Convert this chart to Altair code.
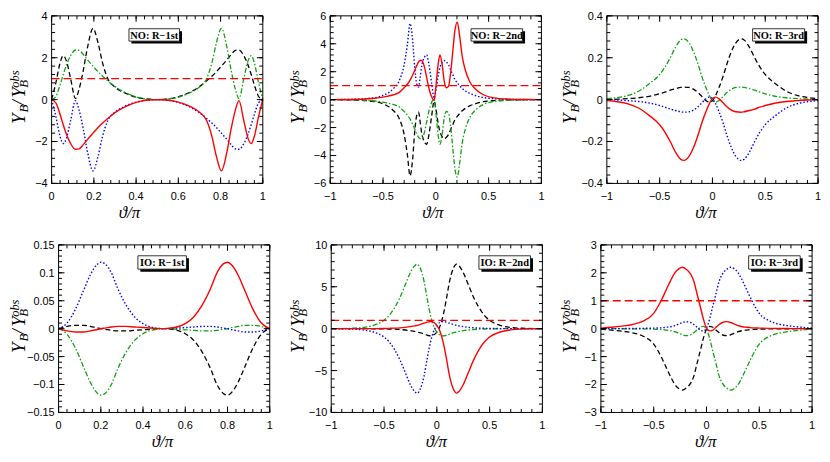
import altair as alt
import pandas as pd

W, H = 213, 169
SERIF = "Liberation Serif, DejaVu Serif, serif"
SANS = "Liberation Sans, Arial, sans-serif"

# ---------------- data ----------------
REF_LEVEL = 1.0

NO1_X = [0, 0.02, 0.04, 0.055, 0.07, 0.09, 0.113, 0.13, 0.15, 0.17, 0.196, 0.22, 0.24, 0.266, 0.30, 0.34, 0.38, 0.42, 0.46, 0.50,
         0.54, 0.58, 0.62, 0.66, 0.70, 0.734, 0.76, 0.78, 0.804, 0.83, 0.85, 0.87, 0.887, 0.91, 0.93, 0.945, 0.96, 0.98, 1.0]
NO1_RED = [0.0, -0.15, -0.7, -1.2, -1.65, -2.1, -2.37, -2.35, -2.15, -1.9, -1.6, -1.33, -1.13, -0.9, -0.62, -0.38, -0.2, -0.08, -0.02, 0.0,
           -0.02, -0.07, -0.18, -0.35, -0.6, -1.0, -1.8, -2.7, -3.4, -2.5, -1.4, -0.5, -0.05, -1.0, -1.85, -2.1, -1.75, -0.8, 0.0]
NO1_BLUE = [0.0, -0.8, -1.75, -2.1, -1.85, -1.0, -0.05, -0.5, -1.4, -2.5, -3.4, -2.7, -1.8, -1.0, -0.6, -0.35, -0.18, -0.07, -0.02, 0.0,
            -0.02, -0.08, -0.2, -0.38, -0.62, -0.9, -1.13, -1.33, -1.6, -1.9, -2.15, -2.35, -2.37, -2.1, -1.65, -1.2, -0.7, -0.15, 0.0]
NO1_GREEN = [0.0, 0.15, 0.7, 1.2, 1.65, 2.1, 2.37, 2.35, 2.15, 1.9, 1.6, 1.33, 1.13, 0.9, 0.62, 0.38, 0.2, 0.08, 0.02, 0.0,
             0.02, 0.07, 0.18, 0.35, 0.6, 1.0, 1.8, 2.7, 3.4, 2.5, 1.4, 0.5, 0.05, 1.0, 1.85, 2.1, 1.75, 0.8, 0.0]
NO1_BLACK = [0.0, 0.8, 1.75, 2.1, 1.85, 1.0, 0.05, 0.5, 1.4, 2.5, 3.4, 2.7, 1.8, 1.0, 0.6, 0.35, 0.18, 0.07, 0.02, 0.0,
             0.02, 0.08, 0.2, 0.38, 0.62, 0.9, 1.13, 1.33, 1.6, 1.9, 2.15, 2.35, 2.37, 2.1, 1.65, 1.2, 0.7, 0.15, 0.0]

NO2_X = [-1.0, -0.8, -0.6, -0.5, -0.4, -0.35, -0.3, -0.27, -0.244, -0.22, -0.2, -0.18, -0.163, -0.15, -0.134, -0.11, -0.087, -0.065, -0.04, -0.016,
         0.0, 0.02, 0.039, 0.06, 0.08, 0.1, 0.12, 0.14, 0.16, 0.18, 0.203, 0.225, 0.25, 0.28, 0.32, 0.38, 0.45, 0.55, 0.7, 0.85, 1.0]
NO2_RED = [0.0, 0.01, 0.08, 0.18, 0.35, 0.5, 0.85, 1.1, 1.4, 1.75, 2.1, 2.45, 2.7, 2.8, 2.8, 2.4, 1.6, 0.8, 0.2, -0.05,
           0.9, 2.4, 3.2, 2.5, 1.3, 0.85, 0.95, 1.9, 3.4, 4.9, 5.55, 4.6, 3.1, 2.1, 1.3, 0.72, 0.35, 0.13, 0.04, 0.01, 0.0]
NO2_BLUE = [0.0, 0.02, 0.12, 0.3, 0.8, 1.3, 2.5, 3.9, 5.45, 4.3, 2.3, 1.1, 0.9, 1.5, 2.4, 3.0, 3.2, 2.5, 1.2, 0.1,
            0.6, 1.6, 2.3, 2.65, 2.8, 2.7, 2.5, 2.15, 1.8, 1.45, 1.2, 1.0, 0.8, 0.62, 0.45, 0.28, 0.15, 0.07, 0.02, 0.005, 0.0]
NO2_GREEN = [0.0, -0.01, -0.08, -0.18, -0.35, -0.5, -0.85, -1.1, -1.4, -1.75, -2.1, -2.45, -2.7, -2.8, -2.8, -2.4, -1.6, -0.8, -0.2, 0.05,
             -0.9, -2.4, -3.2, -2.5, -1.3, -0.85, -0.95, -1.9, -3.4, -4.9, -5.55, -4.6, -3.1, -2.1, -1.3, -0.72, -0.35, -0.13, -0.04, -0.01, 0.0]
NO2_BLACK = [0.0, -0.02, -0.12, -0.3, -0.8, -1.3, -2.5, -3.9, -5.45, -4.3, -2.3, -1.1, -0.9, -1.5, -2.4, -3.0, -3.2, -2.5, -1.2, -0.1,
             -0.6, -1.6, -2.3, -2.65, -2.8, -2.7, -2.5, -2.15, -1.8, -1.45, -1.2, -1.0, -0.8, -0.62, -0.45, -0.28, -0.15, -0.07, -0.02, -0.005, 0.0]

NO3_X = [-1.0, -0.9, -0.8, -0.7, -0.6, -0.5, -0.45, -0.4, -0.35, -0.3, -0.27, -0.22, -0.18, -0.14, -0.1, -0.06, -0.03, 0.0,
         0.03, 0.06, 0.1, 0.14, 0.18, 0.22, 0.27, 0.3, 0.35, 0.4, 0.45, 0.5, 0.6, 0.7, 0.8, 0.9, 1.0]
NO3_RED = [-0.005, -0.01, -0.02, -0.04, -0.075, -0.12, -0.155, -0.2, -0.25, -0.285, -0.29, -0.27, -0.23, -0.175, -0.11, -0.055, -0.02, 0.005,
           0.012, 0.005, -0.015, -0.035, -0.05, -0.058, -0.06, -0.058, -0.052, -0.045, -0.036, -0.028, -0.016, -0.009, -0.005, -0.002, 0.0]
NO3_BLUE = [0.0, -0.002, -0.005, -0.009, -0.016, -0.028, -0.036, -0.045, -0.052, -0.058, -0.06, -0.058, -0.05, -0.035, -0.015, 0.005, 0.012, 0.005,
            -0.02, -0.055, -0.11, -0.175, -0.23, -0.27, -0.29, -0.285, -0.25, -0.2, -0.155, -0.12, -0.075, -0.04, -0.02, -0.01, -0.005]
NO3_GREEN = [0.005, 0.01, 0.02, 0.04, 0.075, 0.12, 0.155, 0.2, 0.25, 0.285, 0.29, 0.27, 0.23, 0.175, 0.11, 0.055, 0.02, -0.005,
             -0.012, -0.005, 0.015, 0.035, 0.05, 0.058, 0.06, 0.058, 0.052, 0.045, 0.036, 0.028, 0.016, 0.009, 0.005, 0.002, 0.0]
NO3_BLACK = [0.0, 0.002, 0.005, 0.009, 0.016, 0.028, 0.036, 0.045, 0.052, 0.058, 0.06, 0.058, 0.05, 0.035, 0.015, -0.005, -0.012, -0.005,
             0.02, 0.055, 0.11, 0.175, 0.23, 0.27, 0.29, 0.285, 0.25, 0.2, 0.155, 0.12, 0.075, 0.04, 0.02, 0.01, 0.005]

IO1_X = [0.0, 0.04, 0.08, 0.12, 0.15, 0.18, 0.2, 0.22, 0.25, 0.28, 0.32, 0.36, 0.4, 0.45, 0.5,
         0.55, 0.6, 0.64, 0.68, 0.72, 0.75, 0.78, 0.8, 0.82, 0.85, 0.88, 0.92, 0.96, 1.0]
IO1_RED = [0.0, -0.004, -0.006, -0.006, -0.004, -0.002, 0.0, 0.001, 0.003, 0.004, 0.004, 0.003, 0.002, 0.0008, 0.0,
           0.002, 0.009, 0.021, 0.042, 0.072, 0.1, 0.116, 0.119, 0.114, 0.096, 0.07, 0.035, 0.01, 0.0]
IO1_BLUE = [0.0, 0.01, 0.035, 0.07, 0.096, 0.114, 0.119, 0.116, 0.1, 0.072, 0.042, 0.021, 0.009, 0.002, 0.0,
            0.0008, 0.002, 0.003, 0.004, 0.004, 0.003, 0.001, 0.0, -0.002, -0.004, -0.006, -0.006, -0.004, 0.0]
IO1_GREEN = [0.0, -0.01, -0.035, -0.07, -0.096, -0.114, -0.119, -0.116, -0.1, -0.072, -0.042, -0.021, -0.009, -0.002, 0.0,
             -0.0008, -0.002, -0.003, -0.004, -0.004, -0.003, -0.001, 0.0, 0.002, 0.004, 0.006, 0.006, 0.004, 0.0]
IO1_BLACK = [0.0, 0.004, 0.006, 0.006, 0.004, 0.002, 0.0, -0.001, -0.003, -0.004, -0.004, -0.003, -0.002, -0.0008, 0.0,
             -0.002, -0.009, -0.021, -0.042, -0.072, -0.1, -0.116, -0.119, -0.114, -0.096, -0.07, -0.035, -0.01, 0.0]

IO2_X = [-1.0, -0.8, -0.7, -0.6, -0.5, -0.45, -0.4, -0.35, -0.3, -0.25, -0.21, -0.187, -0.16, -0.12, -0.09, -0.06, -0.03, 0.0,
         0.03, 0.06, 0.09, 0.12, 0.16, 0.187, 0.21, 0.25, 0.3, 0.35, 0.4, 0.45, 0.5, 0.6, 0.7, 0.8, 1.0]
IO2_RED = [0.0, 0.0, 0.004, 0.01, 0.025, 0.04, 0.06, 0.1, 0.16, 0.24, 0.33, 0.4, 0.48, 0.65, 0.78, 0.85, 0.75, 0.4,
           -0.3, -1.6, -3.5, -5.6, -7.3, -7.7, -7.5, -6.7, -5.2, -3.7, -2.5, -1.6, -1.0, -0.4, -0.15, -0.05, 0.0]
IO2_BLUE = [0.0, -0.05, -0.15, -0.4, -1.0, -1.6, -2.5, -3.7, -5.2, -6.7, -7.5, -7.7, -7.3, -5.6, -3.5, -1.6, -0.3, 0.4,
            0.75, 0.85, 0.78, 0.65, 0.48, 0.4, 0.33, 0.24, 0.16, 0.1, 0.06, 0.04, 0.025, 0.01, 0.004, 0.0, 0.0]
IO2_GREEN = [0.0, 0.05, 0.15, 0.4, 1.0, 1.6, 2.5, 3.7, 5.2, 6.7, 7.5, 7.7, 7.3, 5.6, 3.5, 1.6, 0.3, -0.4,
             -0.75, -0.85, -0.78, -0.65, -0.48, -0.4, -0.33, -0.24, -0.16, -0.1, -0.06, -0.04, -0.025, -0.01, -0.004, 0.0, 0.0]
IO2_BLACK = [0.0, 0.0, -0.004, -0.01, -0.025, -0.04, -0.06, -0.1, -0.16, -0.24, -0.33, -0.4, -0.48, -0.65, -0.78, -0.85, -0.75, -0.4,
             0.3, 1.6, 3.5, 5.6, 7.3, 7.7, 7.5, 6.7, 5.2, 3.7, 2.5, 1.6, 1.0, 0.4, 0.15, 0.05, 0.0]

IO3_X = [-1.0, -0.9, -0.8, -0.7, -0.6, -0.5, -0.43, -0.38, -0.34, -0.3, -0.26, -0.228, -0.19, -0.15, -0.12, -0.09, -0.056, -0.03, 0.0,
         0.03, 0.056, 0.09, 0.12, 0.15, 0.19, 0.228, 0.26, 0.3, 0.34, 0.38, 0.43, 0.5, 0.6, 0.7, 0.8, 0.9, 1.0]
IO3_RED = [0.02, 0.05, 0.09, 0.15, 0.27, 0.55, 1.0, 1.4, 1.72, 2.0, 2.15, 2.2, 2.12, 1.95, 1.7, 1.25, 0.75, 0.35, 0.02,
           -0.08, -0.06, 0.05, 0.15, 0.22, 0.25, 0.22, 0.17, 0.11, 0.07, 0.05, 0.03, 0.02, 0.01, 0.005, 0.003, 0.001, 0.0]
IO3_BLUE = [0.0, 0.001, 0.003, 0.005, 0.01, 0.02, 0.03, 0.05, 0.07, 0.11, 0.17, 0.22, 0.25, 0.22, 0.15, 0.05, -0.06, -0.08, 0.02,
            0.35, 0.75, 1.25, 1.7, 1.95, 2.12, 2.2, 2.15, 2.0, 1.72, 1.4, 1.0, 0.55, 0.27, 0.15, 0.09, 0.05, 0.02]
IO3_GREEN = [0.0, -0.001, -0.003, -0.005, -0.01, -0.02, -0.03, -0.05, -0.07, -0.11, -0.17, -0.22, -0.25, -0.22, -0.15, -0.05, 0.06, 0.08, -0.02,
             -0.35, -0.75, -1.25, -1.7, -1.95, -2.12, -2.2, -2.15, -2.0, -1.72, -1.4, -1.0, -0.55, -0.27, -0.15, -0.09, -0.05, -0.02]
IO3_BLACK = [-0.02, -0.05, -0.09, -0.15, -0.27, -0.55, -1.0, -1.4, -1.72, -2.0, -2.15, -2.2, -2.12, -1.95, -1.7, -1.25, -0.75, -0.35, -0.02,
             0.08, 0.06, -0.05, -0.15, -0.22, -0.25, -0.22, -0.17, -0.11, -0.07, -0.05, -0.03, -0.02, -0.01, -0.005, -0.003, -0.001, 0.0]

LABELS = ["NO: R\u22121st", "NO: R\u22122nd", "NO: R\u22123rd", "IO: R\u22121st", "IO: R\u22122nd", "IO: R\u22123rd"]

# ---------------- styles ----------------
STYLE = {
    "black": dict(color="#000000", strokeDash=[5, 3], strokeWidth=1.3),
    "green": dict(color="#10a010", strokeDash=[5, 2, 1.5, 2], strokeWidth=1.3),
    "blue": dict(color="#0000ff", strokeDash=[1.5, 2], strokeWidth=1.4),
    "red": dict(color="#ff0000", strokeWidth=1.4),
}

CELL_W = [280, 280, 258]
CELL_H = [231, 215]


def tick_values(lo, hi, step):
    n = int(round((hi - lo) / step))
    return [round(lo + k * step, 6) for k in range(n + 1)]


def fmt(v):
    if abs(v) < 1e-12:
        return "0"
    return ("%g" % v).replace("-", "\u2212")


def text_layer(s, x, y, size, **kw):
    return alt.Chart(pd.DataFrame({"s": [s]})).mark_text(fontSize=size, **kw).encode(
        x=alt.value(x), y=alt.value(y), text="s:N")


def panel(cw, ch, PL, PT, xs, curves, xdom, ydom, xstep, xminor, ystep, yminor,
          label, box, ytx, xtx, show_ref):
    xscale = alt.Scale(domain=xdom, range=[PL, PL + W], nice=False, zero=False)
    yscale = alt.Scale(domain=ydom, range=[PT + H, PT], nice=False, zero=False)
    X = lambda f: alt.X(f, scale=xscale, axis=None)
    Y = lambda f: alt.Y(f, scale=yscale, axis=None)

    layers = []
    for key, ys in curves:
        df = pd.DataFrame({"x": xs, "y": ys})
        layers.append(alt.Chart(df).mark_line(interpolate="monotone", **STYLE[key]).encode(
            x=X("x:Q"), y=Y("y:Q")))
    if show_ref:
        layers.append(alt.Chart(pd.DataFrame({"v": [REF_LEVEL]})).mark_rule(
            color="#ff0000", strokeDash=[8, 4], strokeWidth=1.3).encode(
            y=Y("v:Q"), x=alt.value(PL), x2=alt.value(PL + W)))

    # frame
    one = pd.DataFrame({"a": [0]})
    layers.append(alt.Chart(one).mark_rect(fillOpacity=0, stroke="black", strokeWidth=1).encode(
        x=alt.value(PL), x2=alt.value(PL + W), y=alt.value(PT), y2=alt.value(PT + H)))

    # inward ticks on all four sides
    for vals, ln in ((tick_values(xdom[0], xdom[1], xminor), 3.5), (tick_values(xdom[0], xdom[1], xstep), 6)):
        tdf = pd.DataFrame({"v": vals})
        layers.append(alt.Chart(tdf).mark_rule(color="black", strokeWidth=1).encode(
            x=X("v:Q"), y=alt.value(PT + H), y2=alt.value(PT + H - ln)))
        layers.append(alt.Chart(tdf).mark_rule(color="black", strokeWidth=1).encode(
            x=X("v:Q"), y=alt.value(PT), y2=alt.value(PT + ln)))
    for vals, ln in ((tick_values(ydom[0], ydom[1], yminor), 3.5), (tick_values(ydom[0], ydom[1], ystep), 6)):
        tdf = pd.DataFrame({"v": vals})
        layers.append(alt.Chart(tdf).mark_rule(color="black", strokeWidth=1).encode(
            y=Y("v:Q"), x=alt.value(PL), x2=alt.value(PL + ln)))
        layers.append(alt.Chart(tdf).mark_rule(color="black", strokeWidth=1).encode(
            y=Y("v:Q"), x=alt.value(PL + W), x2=alt.value(PL + W - ln)))

    # tick labels
    xv = tick_values(xdom[0], xdom[1], xstep)
    layers.append(alt.Chart(pd.DataFrame({"v": xv, "lab": [fmt(v) for v in xv]})).mark_text(
        font=SANS, fontSize=11, color="black", align="center", baseline="alphabetic").encode(
        x=X("v:Q"), y=alt.value(PT + H + 16.5), text="lab:N"))
    yv = tick_values(ydom[0], ydom[1], ystep)
    layers.append(alt.Chart(pd.DataFrame({"v": yv, "lab": [fmt(v) for v in yv]})).mark_text(
        font=SANS, fontSize=11, color="black", align="right", baseline="alphabetic", dy=4).encode(
        y=Y("v:Q"), x=alt.value(PL - 4), text="lab:N"))

    # label box with shadow
    L, T, bw, bh = box
    L += PL
    T += PT
    layers.append(alt.Chart(one).mark_rect(color="black").encode(
        x=alt.value(L + 2.5), x2=alt.value(L + bw + 2.5), y=alt.value(T + 2.5), y2=alt.value(T + bh + 2.5)))
    layers.append(alt.Chart(one).mark_rect(fill="white", stroke="black", strokeWidth=0.8).encode(
        x=alt.value(L), x2=alt.value(L + bw), y=alt.value(T), y2=alt.value(T + bh)))
    layers.append(text_layer(label, L + bw / 2, T + bh / 2 + 4, 10.5, font=SERIF, fontWeight="bold",
                             align="center", baseline="alphabetic", color="black"))

    # y title  Y_B / Y_B^obs  (rotated)
    pieces = [("Y", 19, 0, 109.0), ("B", 13, 3, 97.5), ("/", 19, 0, 90.5),
              ("Y", 19, 0, 82.5), ("B", 13, 3, 72.5), ("obs", 12.5, -6, 72.5)]
    for s, size, dx, y in pieces:
        layers.append(text_layer(s, ytx + dx, PT + y, size, angle=270, align="left", baseline="alphabetic",
                                 font=SERIF, fontStyle="italic", color="black"))
    # x title
    layers.append(text_layer("\u03d1/\u03c0", PL + xtx, PT + H + 35, 17, align="center", baseline="alphabetic",
                             font=SERIF, fontStyle="italic", color="black"))

    return alt.layer(*layers).properties(width=cw, height=ch)


p1 = panel(CELL_W[0], CELL_H[0], 44, 6, NO1_X, [("black", NO1_BLACK), ("green", NO1_GREEN), ("blue", NO1_BLUE), ("red", NO1_RED)],
           [0, 1], [-4, 4], 0.2, 0.04, 2, 0.4, LABELS[0], (78, 13, 51, 12.5), 17, 78.5, True)
p2 = panel(CELL_W[1], CELL_H[0], 45, 6, NO2_X, [("black", NO2_BLACK), ("green", NO2_GREEN), ("blue", NO2_BLUE), ("red", NO2_RED)],
           [-1, 1], [-6, 6], 0.5, 0.1, 2, 0.4, LABELS[1], (142, 13, 52, 12.5), 19, 103.5, True)
p3 = panel(CELL_W[2], CELL_H[0], 44, 6, NO3_X, [("black", NO3_BLACK), ("green", NO3_GREEN), ("blue", NO3_BLUE), ("red", NO3_RED)],
           [-1, 1], [-0.4, 0.4], 0.5, 0.1, 0.2, 0.04, LABELS[2], (147, 13, 52.5, 12.5), 12.5, 100, False)
p4 = panel(CELL_W[0], CELL_H[1], 51, 6, IO1_X, [("black", IO1_BLACK), ("green", IO1_GREEN), ("blue", IO1_BLUE), ("red", IO1_RED)],
           [0, 1], [-0.15, 0.15], 0.2, 0.04, 0.05, 0.01, LABELS[3], (80, 11, 49, 13.5), 17, 104.7, False)
p5 = panel(CELL_W[1], CELL_H[1], 46, 6, IO2_X, [("black", IO2_BLACK), ("green", IO2_GREEN), ("blue", IO2_BLUE), ("red", IO2_RED)],
           [-1, 1], [-10, 10], 0.5, 0.1, 5, 1, LABELS[4], (149, 11, 52, 13.5), 19, 106, True)
p6 = panel(CELL_W[2], CELL_H[1], 38, 6, IO3_X, [("black", IO3_BLACK), ("green", IO3_GREEN), ("blue", IO3_BLUE), ("red", IO3_RED)],
           [-1, 1], [-3, 3], 0.5, 0.1, 1, 0.2, LABELS[5], (149, 11, 52, 13.5), 12.5, 105.7, True)

chart = alt.concat(p1, p2, p3, p4, p5, p6, columns=3, spacing=0, bounds="flush", align="each").properties(
    padding=0, background="white").configure_view(stroke=None)

chart.save("out.html", embed_options={"renderer": "svg", "actions": False})
